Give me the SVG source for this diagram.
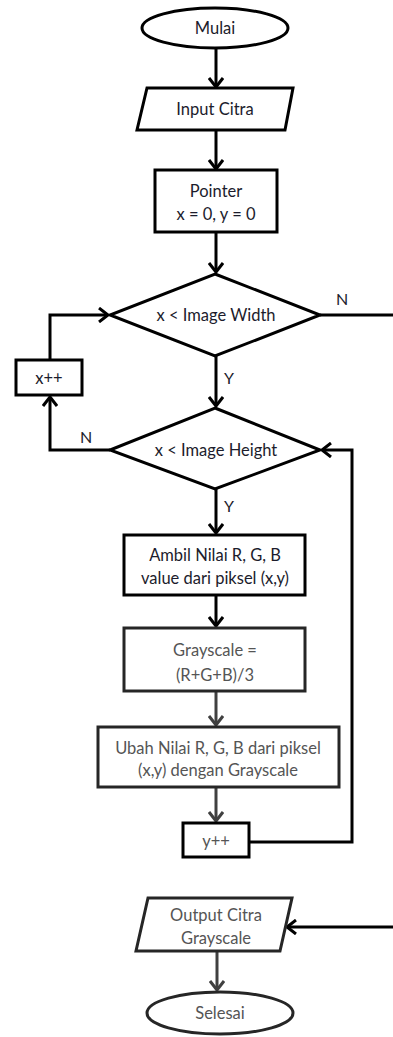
<svg xmlns="http://www.w3.org/2000/svg" width="393" height="1037" viewBox="0 0 393 1037">
<style>
.s{fill:#fff;stroke:#000;stroke-width:3}
.sg{fill:#fff;stroke:#262626;stroke-width:3}
.c{fill:none;stroke:#000;stroke-width:3}
.cg{fill:none;stroke:#404040;stroke-width:3}
.t{font-family:Lato,"Liberation Sans",sans-serif;font-size:16.5px;fill:#1c1c2c;text-anchor:middle}
.tg{font-family:Lato,"Liberation Sans",sans-serif;font-size:16.5px;fill:#555;text-anchor:middle}
.l{font-family:Lato,"Liberation Sans",sans-serif;font-size:16px;fill:#1c1c2c}
</style>
<defs>
<marker id="a" markerUnits="userSpaceOnUse" markerWidth="16" markerHeight="16" refX="11" refY="8" orient="auto">
<path d="M2,1 L11,8 L2,15" fill="none" stroke="#000" stroke-width="3"/>
</marker>
<marker id="ag" markerUnits="userSpaceOnUse" markerWidth="16" markerHeight="16" refX="11" refY="8" orient="auto">
<path d="M2,1 L11,8 L2,15" fill="none" stroke="#404040" stroke-width="3"/>
</marker>
</defs>
<g id="connectors">
<line class="c" x1="216" y1="48" x2="216" y2="87" marker-end="url(#a)"/>
<line class="c" x1="216" y1="130" x2="216" y2="169" marker-end="url(#a)"/>
<line class="c" x1="216" y1="232" x2="216" y2="272" marker-end="url(#a)"/>
<line class="c" x1="320" y1="315" x2="393" y2="315"/>
<text class="l" x="336" y="305">N</text>
<polyline class="c" points="50,360 50,315 108,315" marker-end="url(#a)"/>
<line class="c" x1="216" y1="356" x2="216" y2="406" marker-end="url(#a)"/>
<text class="l" x="224" y="384">Y</text>
<polyline class="c" points="110,450 50,450 50,397" marker-end="url(#a)"/>
<text class="l" x="80" y="443">N</text>
<line class="c" x1="216" y1="489" x2="216" y2="533" marker-end="url(#a)"/>
<text class="l" x="224" y="512">Y</text>
<line class="c" x1="216" y1="595" x2="216" y2="626" marker-end="url(#a)"/>
<line class="cg" x1="216" y1="691" x2="216" y2="725" marker-end="url(#ag)"/>
<line class="cg" x1="216" y1="787" x2="216" y2="821" marker-end="url(#ag)"/>
<polyline class="c" points="249,842 352,842 352,450 322,450" marker-end="url(#a)"/>
<line class="c" x1="393" y1="927" x2="287" y2="927" marker-end="url(#a)"/>
<line class="cg" x1="217" y1="951" x2="217" y2="990" marker-end="url(#ag)"/>
</g>
<g id="mulai">
<ellipse class="s" cx="215" cy="28" rx="73" ry="20"/>
<text class="t" x="215" y="34">Mulai</text>
</g>
<g id="input">
<polygon class="s" points="147,88 293,88 285,130 137,130"/>
<text class="t" x="215" y="115">Input Citra</text>
</g>
<g id="pointer">
<rect class="s" x="155" y="170" width="122" height="62"/>
<text class="t" x="216" y="197">Pointer</text>
<text class="t" x="216" y="220">x = 0,  y = 0</text>
</g>
<g id="dec-width">
<polygon class="s" points="215,274 320,315 215,356 110,315"/>
<text class="t" x="216" y="321">x &lt; Image Width</text>
</g>
<g id="xinc">
<rect class="s" x="16" y="360" width="66" height="35"/>
<text class="t" x="49" y="384">x++</text>
</g>
<g id="dec-height">
<polygon class="s" points="215,408 320,450 215,489 110,450"/>
<text class="t" x="216" y="456">x &lt; Image Height</text>
</g>
<g id="ambil">
<rect class="s" x="124" y="535" width="181" height="60"/>
<text class="t" x="215" y="561">Ambil Nilai R, G, B</text>
<text class="t" x="215" y="584">value dari piksel (x,y)</text>
</g>
<g id="grayscale">
<rect class="sg" x="124" y="628" width="181" height="63"/>
<text class="tg" x="215" y="656">Grayscale =</text>
<text class="tg" x="215" y="681">(R+G+B)/3</text>
</g>
<g id="ubah">
<rect class="sg" x="98" y="727" width="241" height="60"/>
<text class="tg" x="218" y="754">Ubah Nilai R, G, B dari piksel</text>
<text class="tg" x="218" y="776">(x,y) dengan Grayscale</text>
</g>
<g id="yinc">
<rect class="s" x="183" y="823" width="66" height="34"/>
<text class="tg" x="216" y="847">y++</text>
</g>
<g id="output">
<polygon class="sg" points="148,898 292,898 280,951 136,951"/>
<text class="tg" x="216" y="921">Output Citra</text>
<text class="tg" x="216" y="944">Grayscale</text>
</g>
<g id="selesai">
<ellipse class="sg" cx="220" cy="1013" rx="73" ry="21"/>
<text class="tg" x="220" y="1019">Selesai</text>
</g>
</svg>
